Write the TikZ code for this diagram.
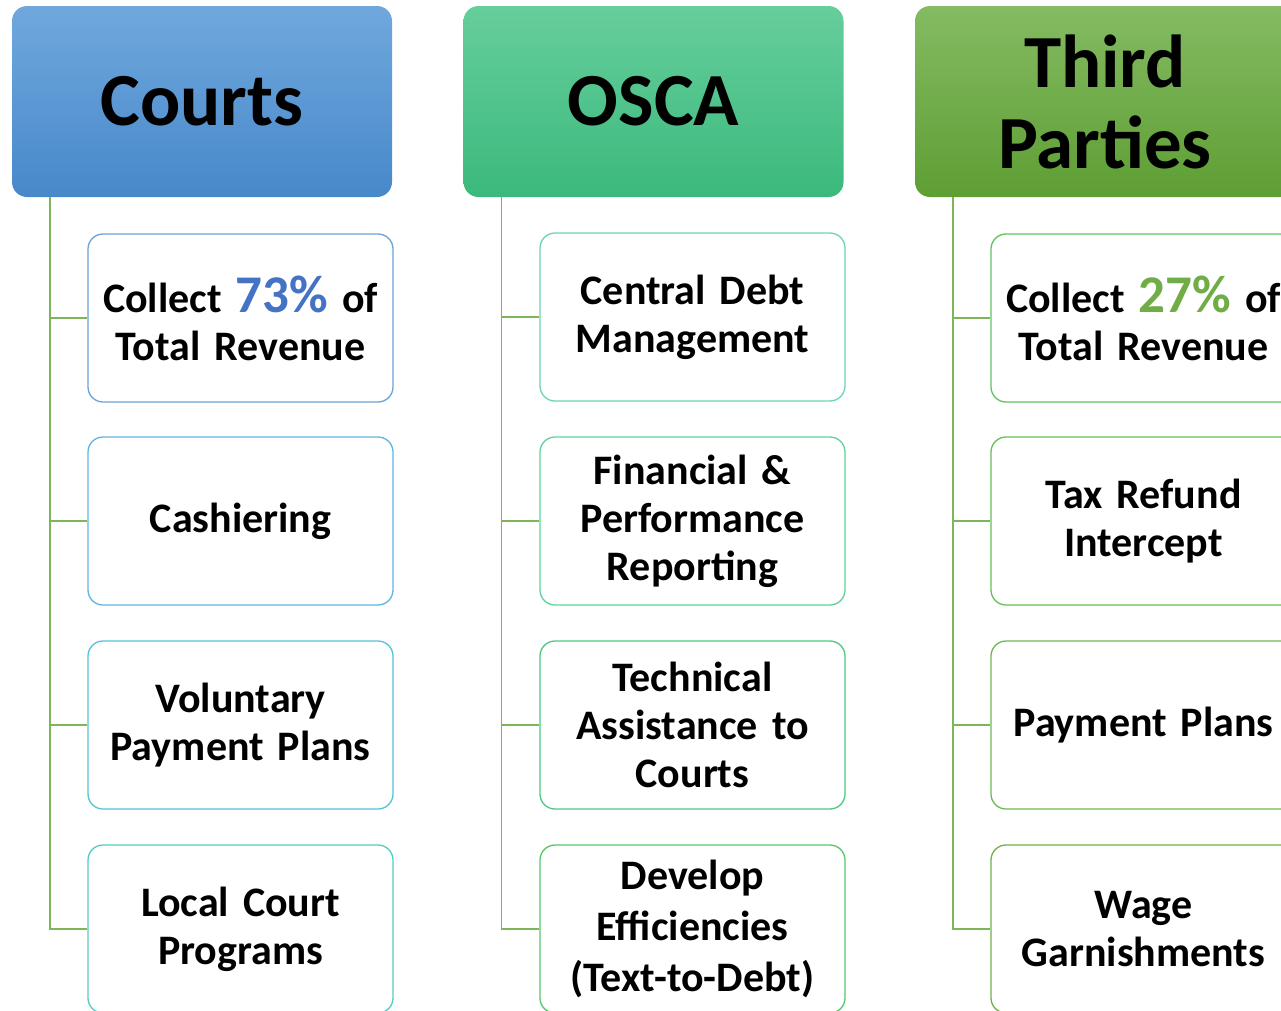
\documentclass[tikz,border=0pt]{standalone}
\usepackage{fontspec}
\setmainfont{Carlito}
\definecolor{hcA}{HTML}{70A8DD}
\definecolor{hcB}{HTML}{4788CA}
\definecolor{hoA}{HTML}{66CE9B}
\definecolor{hoB}{HTML}{3BB97D}
\definecolor{htA}{HTML}{84BB63}
\definecolor{htB}{HTML}{5E9E33}
\definecolor{bc1}{HTML}{6AA3DA}
\definecolor{bc2}{HTML}{5FB6DE}
\definecolor{bc3}{HTML}{55C3D8}
\definecolor{bc4}{HTML}{55CCC2}
\definecolor{bo1}{HTML}{6DD3BA}
\definecolor{bo2}{HTML}{5ED39D}
\definecolor{bo3}{HTML}{4FC97F}
\definecolor{bo4}{HTML}{55C76A}
\definecolor{bt1}{HTML}{60C45E}
\definecolor{bt2}{HTML}{66C056}
\definecolor{bt3}{HTML}{6CBB50}
\definecolor{bt4}{HTML}{72B04A}
\definecolor{linkc}{HTML}{7DB65A}
\definecolor{pblue}{HTML}{4472C4}
\definecolor{pgreen}{HTML}{70AD47}
\tikzset{
  header/.style={rounded corners=15pt, minimum width=380pt, minimum height=191pt,
    inner sep=0pt, align=center, font=\fontsize{75pt}{81pt}\selectfont\bfseries},
  itembox/.style={draw=#1, line width=1.3pt, fill=white, rounded corners=15pt,
    minimum width=305pt, minimum height=168pt, inner sep=0pt, text width=295pt,
    align=center, font=\fontsize{42pt}{48pt}\selectfont\bfseries},
  link/.style={draw=linkc, line width=1.4pt}
}
\begin{document}
\begin{tikzpicture}[x=1pt,y=-1pt]
\useasboundingbox (0,0) rectangle (1281,1010);
\clip (0,0) rectangle (1281,1010);
% headers
\node[header, top color=hcA, bottom color=hcB] (courts) at (202,101.5) {Courts};
\node[header, top color=hoA, bottom color=hoB] (osca) at (653.5,101.5) {OSCA};
\node[header, top color=htA, bottom color=htB] (third) at (1105,101.5) {Third\\Parties};
% courts items
\node[itembox=bc1] (c1) at (240.5,318) {Collect {\fontsize{53pt}{48pt}\selectfont\color{pblue}73\%} of\\Total Revenue};
\node[itembox=bc2] (c2) at (240.5,521) {Cashiering};
\node[itembox=bc3] (c3) at (240.5,725) {Voluntary\\Payment Plans};
\node[itembox=bc4] (c4) at (240.5,929) {Local Court\\Programs};
% osca items
\node[itembox=bo1] (o1) at (692.5,317) {Central Debt\\Management};
\node[itembox=bo2] (o2) at (692.5,521) {Financial \&\\Performance\\Reporting};
\node[itembox=bo3] (o3) at (692.5,725) {Technical\\Assistance to\\Courts};
\node[itembox=bo4, font=\fontsize{42pt}{51pt}\selectfont\bfseries] (o4) at (692.5,929) {Develop\\Efficiencies\\(Text-to-Debt)};
% third items
\node[itembox=bt1] (t1) at (1143.5,318) {Collect {\fontsize{53pt}{48pt}\selectfont\color{pgreen}27\%} of\\Total Revenue};
\node[itembox=bt2] (t2) at (1143.5,521) {Tax Refund\\Intercept};
\node[itembox=bt3] (t3) at (1143.5,725) {Payment Plans};
\node[itembox=bt4] (t4) at (1143.5,929) {Wage\\Garnishments};
% connectors
\coordinate (cl) at ([xshift=38pt]courts.south west);
\coordinate (ol) at ([xshift=38pt]osca.south west);
\coordinate (tl) at ([xshift=38pt]third.south west);
\foreach \k in {1,2,3,4}{
  \draw[link] (cl) |- (c\k.west);
  \draw[link] (ol) |- (o\k.west);
  \draw[link] (tl) |- (t\k.west);
}
\end{tikzpicture}
\end{document}
